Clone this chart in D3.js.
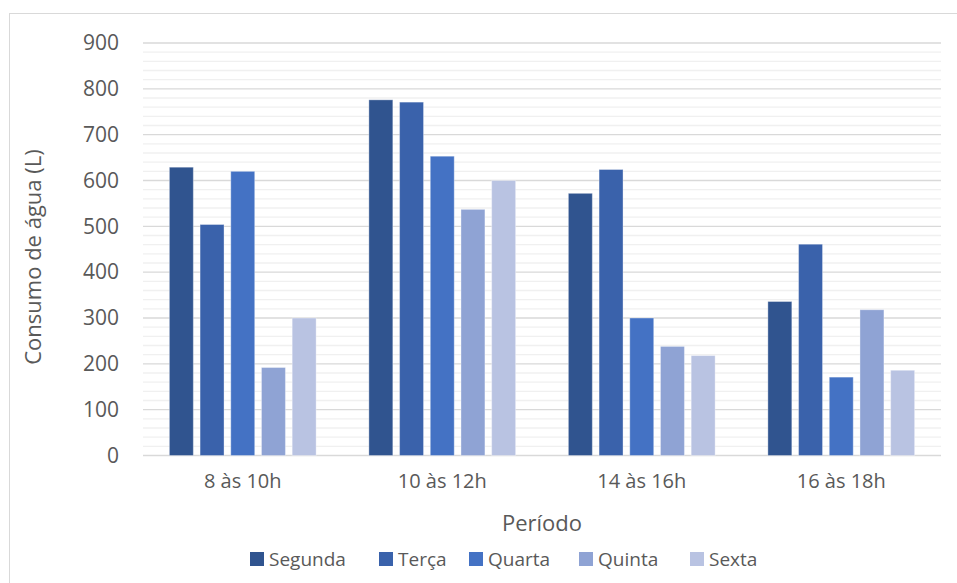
<!DOCTYPE html>
<html>
<head>
<meta charset="utf-8">
<script src="https://cdn.jsdelivr.net/npm/d3@7"></script>
<style>
  html, body { margin: 0; padding: 0; background: #fff; }
  svg { display: block; font-family: "Open Sans", "Noto Sans", sans-serif; }
</style>
</head>
<body>
<svg id="chart" width="957" height="583"></svg>
<script>
// Water consumption (litres) per time slot, one series per weekday
const periods = ["8 às 10h", "10 às 12h", "14 às 16h", "16 às 18h"];
const days = ["Segunda", "Terça", "Quarta", "Quinta", "Sexta"];
const segunda = [629, 776, 572, 336];
const terca   = [504, 771, 624, 461];
const quarta  = [620, 653, 300, 171];
const quinta  = [192, 537, 238, 318];
const sexta   = [300, 600, 218, 186];
const yTicks = [0, 100, 200, 300, 400, 500, 600, 700, 800, 900];
const dayColors = ["#30548F", "#3A62AB", "#4472C4", "#8FA3D4", "#B9C3E2"];

const seriesValues = [segunda, terca, quarta, quinta, sexta];

const svg = d3.select("#chart");
const W = 957, H = 583;
const plot = { left: 143, right: 941, top: 43, bottom: 455.5 };

// outer chart frame
svg.append("rect")
  .attr("x", 9.5).attr("y", 13.5)
  .attr("width", W + 20).attr("height", H + 20)
  .attr("fill", "#fff").attr("stroke", "#d9d9d9").attr("stroke-width", 1);

const y = d3.scaleLinear().domain([0, 900]).range([plot.bottom, plot.top]);
const x0 = d3.scaleBand().domain(periods).range([plot.left, plot.right]).padding(0);
const groupW = x0.bandwidth();
const inner = 153.5;
const x1 = d3.scaleBand().domain(days)
  .range([(groupW - inner) / 2, (groupW + inner) / 2])
  .paddingInner(0.22).paddingOuter(0.11);

// minor gridlines every 20
const minor = d3.range(20, 900, 20).filter(v => v % 100 !== 0);
svg.append("g").selectAll("line").data(minor).join("line")
  .attr("x1", plot.left).attr("x2", plot.right)
  .attr("y1", d => y(d)).attr("y2", d => y(d))
  .attr("stroke", "#f0f0f0").attr("stroke-width", 1.3);

// major gridlines
svg.append("g").selectAll("line").data(yTicks).join("line")
  .attr("x1", plot.left).attr("x2", plot.right)
  .attr("y1", d => y(d)).attr("y2", d => y(d))
  .attr("stroke", "#d9d9d9").attr("stroke-width", 1.3);

// y axis labels
const yAxis = svg.append("g")
  .attr("transform", `translate(${plot.left - 24},0)`)
  .call(d3.axisLeft(y).tickValues(yTicks).tickSize(0).tickPadding(0));
yAxis.select(".domain").remove();
yAxis.selectAll("text")
  .attr("fill", "#595959").attr("font-size", 21)
  .attr("font-family", "Open Sans, sans-serif");

// x axis labels
const xAxis = svg.append("g")
  .attr("transform", `translate(0,${plot.bottom + 18})`)
  .call(d3.axisBottom(x0).tickSize(0).tickPadding(0));
xAxis.select(".domain").remove();
xAxis.selectAll("text")
  .attr("fill", "#595959").attr("font-size", 20)
  .attr("font-family", "Open Sans, sans-serif");

// bars
const groups = svg.append("g").selectAll("g").data(periods).join("g")
  .attr("transform", p => `translate(${x0(p)},0)`);
groups.selectAll("rect")
  .data((p, i) => days.map((d, k) => ({ day: d, k, v: seriesValues[k][i] })))
  .join("rect")
  .attr("x", d => x1(d.day))
  .attr("width", x1.bandwidth())
  .attr("y", d => y(d.v))
  .attr("height", d => y(0) - y(d.v))
  .attr("fill", d => dayColors[d.k])
  .attr("stroke", "#ffffff").attr("stroke-opacity", 0.35).attr("stroke-width", 1);

// axis titles
svg.append("text")
  .attr("x", 542).attr("y", 531)
  .attr("text-anchor", "middle")
  .attr("fill", "#595959").attr("font-size", 22)
  .text("Período");

svg.append("text")
  .attr("transform", "translate(41,257) rotate(-90)")
  .attr("text-anchor", "middle")
  .attr("fill", "#595959").attr("font-size", 22)
  .text("Consumo de água (L)");

// legend
const legendX = [250, 379, 469, 579, 690];
const legend = svg.append("g").selectAll("g").data(days).join("g")
  .attr("transform", (d, i) => `translate(${legendX[i]},552)`);
legend.append("rect")
  .attr("width", 14).attr("height", 14)
  .attr("fill", (d, i) => dayColors[i]);
legend.append("text")
  .attr("x", 19).attr("y", 14)
  .attr("fill", "#595959").attr("font-size", 19)
  .text(d => d);
</script>
</body>
</html>
